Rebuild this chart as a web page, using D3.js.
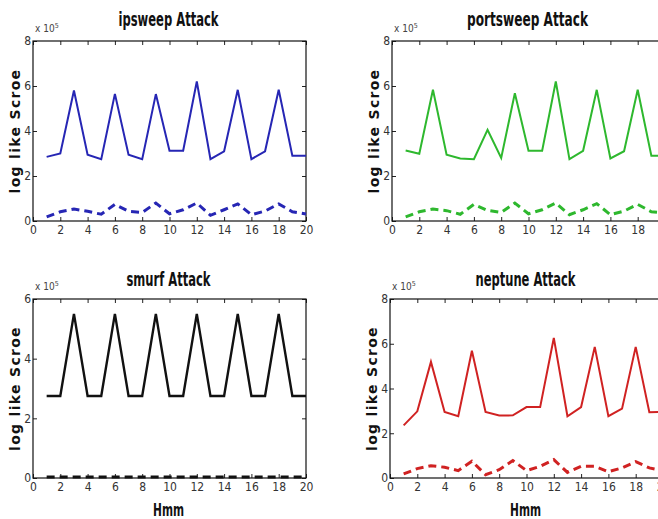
<!DOCTYPE html>
<html>
<head>
<meta charset="utf-8">
<script src="https://cdn.jsdelivr.net/npm/d3@7"></script>
<style>
  body { margin: 0; background: #fff; overflow: hidden; }
  svg { display: block; }
  .tick text { font-family: "DejaVu Sans Condensed", "DejaVu Sans", sans-serif; font-stretch: condensed; font-size: 12px; fill: #333; }
  .tick line { stroke: #222; }
  .title { font-family: "DejaVu Sans Condensed", "DejaVu Sans", sans-serif; font-stretch: condensed; font-weight: bold; font-size: 19px; fill: #111; }
  .ylabel { font-family: "DejaVu Sans", sans-serif; font-weight: bold; font-size: 14px; letter-spacing: 1.3px; fill: #111; }
  .xlabel { font-family: "DejaVu Sans Condensed", "DejaVu Sans", sans-serif; font-stretch: condensed; font-weight: bold; font-size: 18px; fill: #111; }
  .expo { font-family: "DejaVu Sans Condensed", "DejaVu Sans", sans-serif; font-stretch: condensed; font-size: 10px; fill: #444; }
</style>
</head>
<body>
<div id="chart"></div>
<script>
var svgWidth = 658;
var svgHeight = 519;

// HMM states on the x axis
var states = [1, 2, 3, 4, 5, 6, 7, 8, 9, 10, 11, 12, 13, 14, 15, 16, 17, 18, 19, 20];
var xTicks = [0, 2, 4, 6, 8, 10, 12, 14, 16, 18, 20];

// values in units of 10^5
var ipsweepSolid = [2.85, 3.0, 5.8, 2.95, 2.75, 5.65, 2.95, 2.75, 5.64, 3.12, 3.12, 6.2, 2.75, 3.1, 5.83, 2.75, 3.1, 5.83, 2.9, 2.9];
var ipsweepDash = [0.18, 0.41, 0.53, 0.43, 0.3, 0.74, 0.43, 0.38, 0.8, 0.32, 0.5, 0.8, 0.25, 0.5, 0.76, 0.28, 0.44, 0.76, 0.41, 0.31];

var portsweepSolid = [3.13, 2.99, 5.83, 2.95, 2.78, 2.75, 4.05, 2.8, 5.68, 3.12, 3.12, 6.2, 2.75, 3.12, 5.83, 2.78, 3.1, 5.83, 2.9, 2.9];
var portsweepDash = [0.18, 0.41, 0.53, 0.46, 0.3, 0.74, 0.47, 0.38, 0.8, 0.32, 0.5, 0.8, 0.28, 0.5, 0.77, 0.28, 0.44, 0.74, 0.41, 0.35];

var smurfSolid = [2.75, 2.75, 5.5, 2.75, 2.75, 5.5, 2.75, 2.75, 5.5, 2.75, 2.75, 5.5, 2.75, 2.75, 5.5, 2.75, 2.75, 5.5, 2.75, 2.75];
var smurfDash = [0.03, 0.03, 0.03, 0.03, 0.03, 0.03, 0.03, 0.03, 0.03, 0.03, 0.03, 0.03, 0.03, 0.03, 0.03, 0.03, 0.03, 0.03, 0.03, 0.03];

var neptuneSolid = [2.35, 2.98, 5.19, 2.95, 2.76, 5.69, 2.95, 2.79, 2.8, 3.17, 3.17, 6.26, 2.76, 3.17, 5.86, 2.76, 3.1, 5.86, 2.94, 2.95];
var neptuneDash = [0.18, 0.42, 0.55, 0.48, 0.33, 0.75, 0.15, 0.37, 0.78, 0.33, 0.52, 0.82, 0.25, 0.52, 0.52, 0.28, 0.45, 0.73, 0.45, 0.33];

var svg = d3.select("#chart")
  .append("svg")
  .attr("width", svgWidth)
  .attr("height", svgHeight);

// draw one MATLAB style subplot
function drawPanel(opt) {
  var width = 273;
  var height = opt.height;

  var g = svg.append("g")
    .attr("transform", `translate(${opt.left}, ${opt.top})`);

  var x = d3.scaleLinear().domain([0, 20]).range([0, width]);
  var y = d3.scaleLinear().domain([0, opt.yMax]).range([height, 0]);
  var yTicks = d3.range(0, opt.yMax + 1, 2);

  // ticks point inward on all four sides
  g.append("g")
    .attr("transform", `translate(0, ${height})`)
    .call(d3.axisBottom(x).tickValues(xTicks).tickSize(-4).tickPadding(4).tickFormat(d3.format("d")))
    .call(a => a.select(".domain").remove());
  g.append("g")
    .call(d3.axisTop(x).tickValues(xTicks).tickSize(-4).tickFormat(""))
    .call(a => a.select(".domain").remove());
  g.append("g")
    .call(d3.axisLeft(y).tickValues(yTicks).tickSize(-4).tickPadding(2).tickFormat(d3.format("d")))
    .call(a => a.select(".domain").remove());
  g.append("g")
    .attr("transform", `translate(${width}, 0)`)
    .call(d3.axisRight(y).tickValues(yTicks).tickSize(-4).tickFormat(""))
    .call(a => a.select(".domain").remove());

  g.append("rect")
    .attr("width", width)
    .attr("height", height)
    .attr("fill", "none")
    .attr("stroke", "#111")
    .attr("stroke-width", 1.2);

  var line = d3.line()
    .x((d, i) => x(states[i]))
    .y(d => y(d));

  g.append("path")
    .datum(opt.solid)
    .attr("d", line)
    .attr("fill", "none")
    .attr("stroke", opt.color)
    .attr("stroke-width", opt.solidWidth || 2)
    .attr("stroke-linejoin", "miter");

  g.append("path")
    .datum(opt.dash)
    .attr("d", line)
    .attr("fill", "none")
    .attr("stroke", opt.color)
    .attr("stroke-width", 3)
    .attr("stroke-dasharray", "8,5");

  // titles and labels
  g.append("text")
    .attr("class", "title")
    .attr("x", width / 2 - 1)
    .attr("y", opt.titleY)
    .attr("text-anchor", "middle")
    .attr("textLength", opt.titleLen)
    .attr("lengthAdjust", "spacingAndGlyphs")
    .text(opt.title);

  var ex = g.append("text")
    .attr("class", "expo")
    .attr("x", 2)
    .attr("y", -9);
  ex.append("tspan").text("x 10");
  ex.append("tspan").attr("dy", -4).attr("font-size", "7px").text("5");

  g.append("text")
    .attr("class", "ylabel")
    .attr("transform", "rotate(-90)")
    .attr("x", -height / 2)
    .attr("y", -13)
    .attr("text-anchor", "middle")
    .text("log like Scroe");

  if (opt.xlabel) {
    g.append("text")
      .attr("class", "xlabel")
      .attr("x", width / 2 - 1)
      .attr("y", height + 38)
      .attr("text-anchor", "middle")
      .attr("textLength", 31)
      .attr("lengthAdjust", "spacingAndGlyphs")
      .text("Hmm");
  }
}

drawPanel({ left: 33, top: 41, height: 180, yMax: 8, title: "ipsweep Attack", titleY: -15, titleLen: 100,
  solid: ipsweepSolid, dash: ipsweepDash, color: "#2626b4" });
drawPanel({ left: 392, top: 41, height: 180, yMax: 8, title: "portsweep Attack", titleY: -15, titleLen: 121,
  solid: portsweepSolid, dash: portsweepDash, color: "#2eb82e" });
drawPanel({ left: 33, top: 299, height: 179, yMax: 6, title: "smurf Attack", titleY: -13, titleLen: 84,
  solid: smurfSolid, dash: smurfDash, color: "#111", solidWidth: 2.4, xlabel: true });
drawPanel({ left: 390, top: 299, height: 179, yMax: 8, title: "neptune Attack", titleY: -13, titleLen: 100,
  solid: neptuneSolid, dash: neptuneDash, color: "#d02222", xlabel: true });
</script>
</body>
</html>
